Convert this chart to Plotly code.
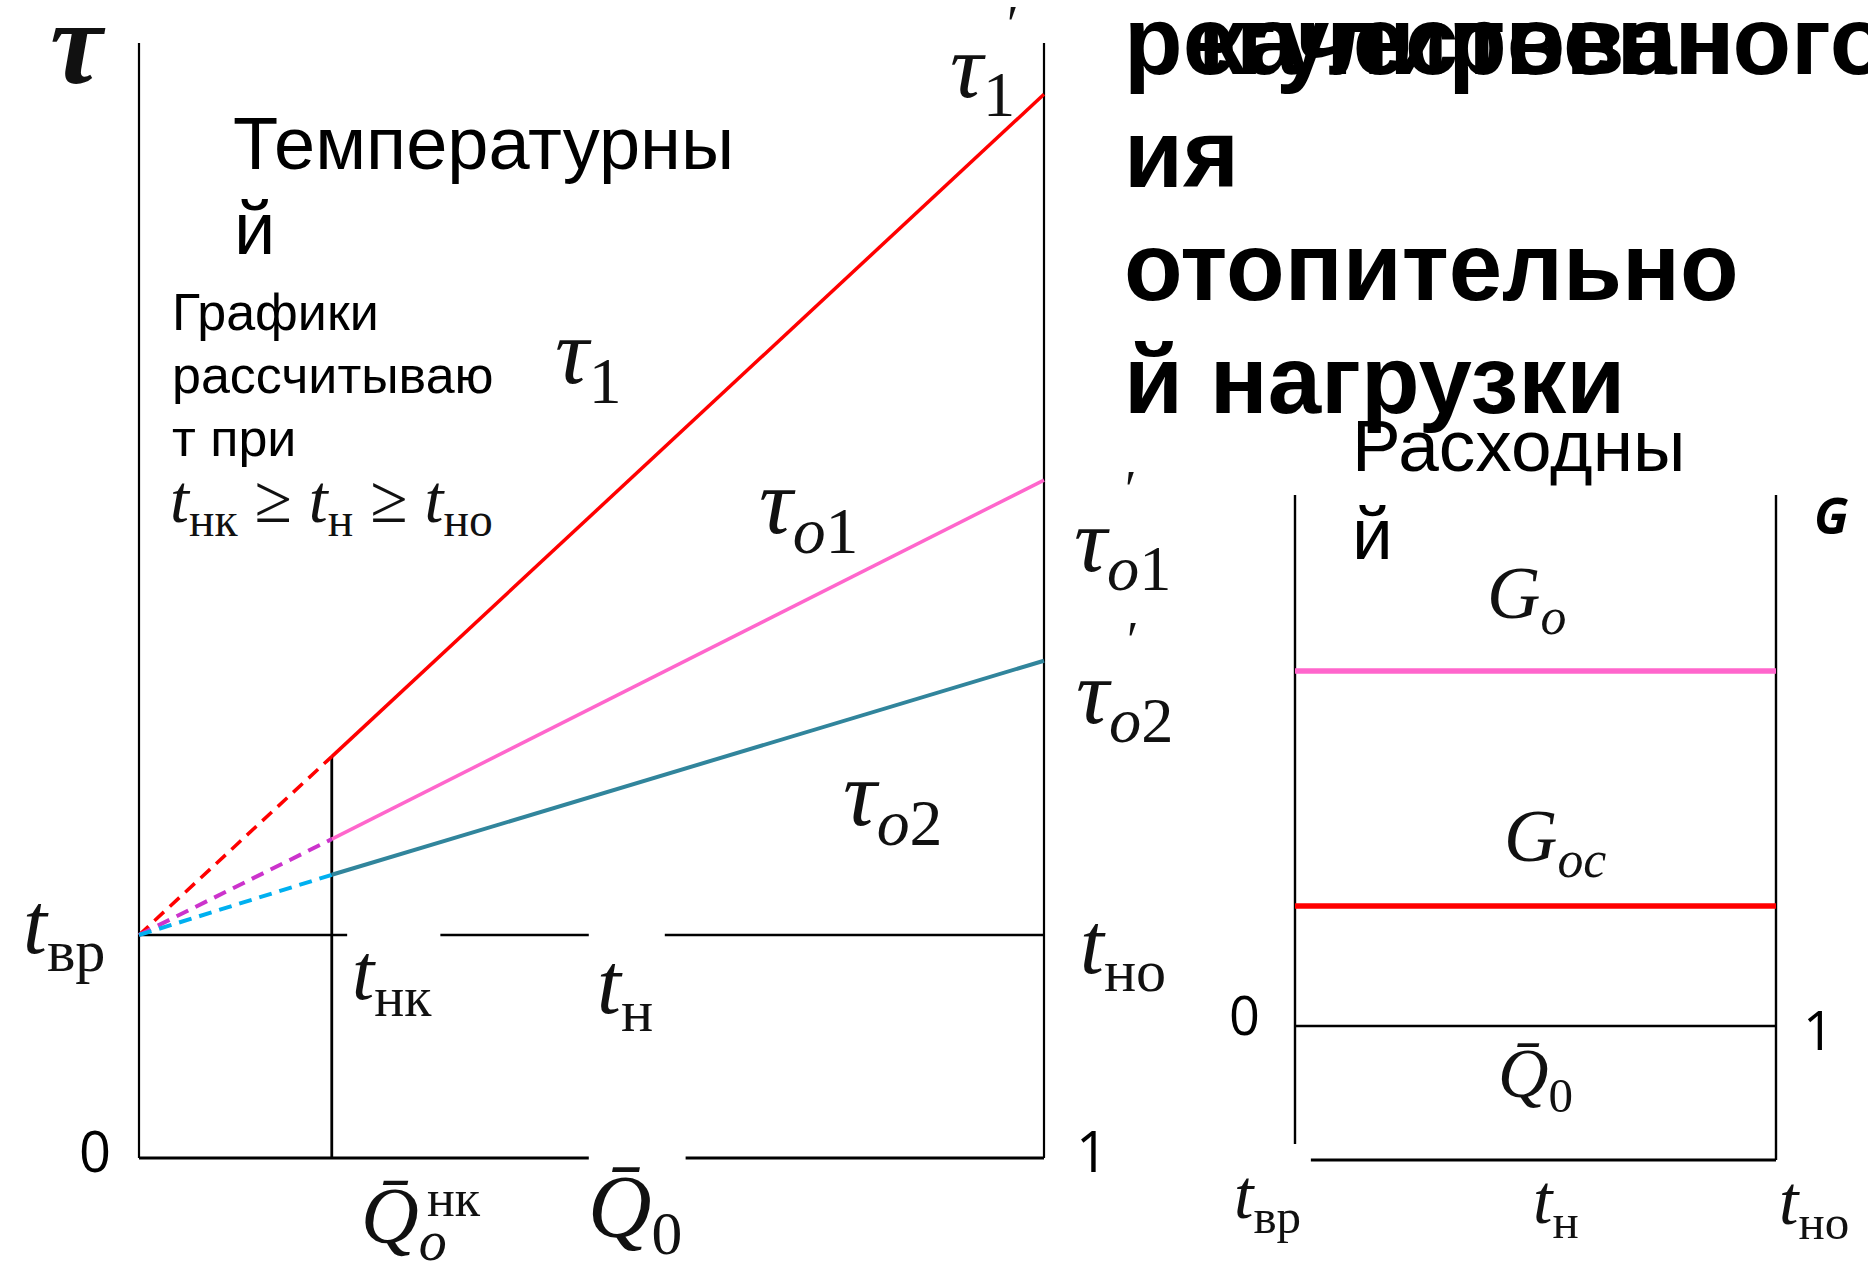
import plotly.graph_objects as go

W, H = 1868, 1261

# ---- temperature chart (left): relative load Q0 from 0 to 1 ----
q_axis = [0.0, 1.0]
q_nk = 0.213                 # load at the break point t_нк
t_vr = 1.0                   # design indoor temperature level
tau_top = 5.0                # top of the τ axis
tau1_vals = [1.0, 1.80, 4.77]     # τ1 at 0, Q_нк, 1
tau_o1_vals = [1.0, 1.43, 3.04]   # τo1 at 0, Q_нк, 1
tau_o2_vals = [1.0, 1.27, 2.23]   # τo2 at 0, Q_нк, 1
# gaps in the t_вр and base lines where labels sit
tvr_segments = [(0.0, 0.230), (0.333, 0.497), (0.581, 1.0)]
base_segments = [(0.0, 0.497), (0.604, 1.0)]

# ---- flow chart (right): t_вр..t_но ----
g_axis = [0.0, 1.0]
g_o = 3.55
g_oc = 1.20
g_bottom = -1.34
g_left_bottom = -1.18
g_top = 5.31
g_base_start = 0.033

# pixel mapping of each panel
L_X0, L_XW = 139, 905
L_Y0, L_YU = 1158, 223
R_X0, R_XW = 1295, 481
R_Y0, R_YU = 1026, 100
L_XR, L_YR = [-0.03, 1.03], [-0.1, 5.1]
R_XR, R_YR = [-0.05, 1.05], [-1.5, 5.5]


def dom_x(x0, xw, rng):
    return [(x0 + xw * rng[0]) / W, (x0 + xw * rng[1]) / W]


def dom_y(y0, yu, rng):
    return [1 - (y0 - yu * rng[0]) / H, 1 - (y0 - yu * rng[1]) / H]


fig = go.Figure()

BLACK = "#000000"
RED = "#FF0000"
PINK = "#FF66CC"
TEAL = "#31859C"
MAGENTA = "#CC33CC"
SKY = "#00B0F0"


def seg(x, y, color, width, dash="solid", ax="1"):
    fig.add_trace(go.Scatter(
        x=x, y=y, mode="lines", showlegend=False, hoverinfo="skip",
        line=dict(color=color, width=width, dash=dash),
        xaxis="x" if ax == "1" else "x2", yaxis="y" if ax == "1" else "y2"))


# left panel frame
seg([0, 0], [0, tau_top], BLACK, 2.2)
seg([1, 1], [0, tau_top], BLACK, 2.2)
for a, b in base_segments:
    seg([a, b], [0, 0], BLACK, 2.8)
for a, b in tvr_segments:
    seg([a, b], [t_vr, t_vr], BLACK, 2.4)
seg([q_nk, q_nk], [0, tau1_vals[1]], BLACK, 2.8)

# temperature lines: dashed below t_нк, solid above
xs = [0.0, q_nk, 1.0]
seg(xs[:2], tau1_vals[:2], RED, 3.5, "13px,8px")
seg(xs[1:], tau1_vals[1:], RED, 3.5)
seg(xs[:2], tau_o1_vals[:2], MAGENTA, 4, "13px,8px")
seg(xs[1:], tau_o1_vals[1:], PINK, 3.5)
seg(xs[:2], tau_o2_vals[:2], SKY, 4, "13px,8px")
seg(xs[1:], tau_o2_vals[1:], TEAL, 4)

# right panel
seg([0, 0], [g_left_bottom, g_top], BLACK, 2.4, ax="2")
seg([1, 1], [g_bottom, g_top], BLACK, 2.4, ax="2")
seg([g_base_start, 1], [g_bottom, g_bottom], BLACK, 2.8, ax="2")
seg(g_axis, [0, 0], BLACK, 2.4, ax="2")
seg(g_axis, [g_o, g_o], PINK, 5.5, ax="2")
seg(g_axis, [g_oc, g_oc], RED, 5.5, ax="2")

hidden = dict(visible=False, showgrid=False, zeroline=False)
fig.update_layout(
    width=W, height=H, margin=dict(l=0, r=0, t=0, b=0),
    paper_bgcolor="white", plot_bgcolor="rgba(0,0,0,0)",
    xaxis=dict(domain=dom_x(L_X0, L_XW, L_XR), range=L_XR, **hidden),
    yaxis=dict(domain=dom_y(L_Y0, L_YU, L_YR), range=L_YR, **hidden),
    xaxis2=dict(domain=dom_x(R_X0, R_XW, R_XR), range=R_XR, anchor="y2", **hidden),
    yaxis2=dict(domain=dom_y(R_Y0, R_YU, R_YR), range=R_YR, anchor="x2", **hidden),
)

SERIF = "Liberation Serif"
SANS = "Liberation Sans"
NUM = "Open Sans"


def label(text, px, py, size, family=SERIF, xanchor="center", color="#111111"):
    fig.add_annotation(
        text=text, x=px / W, y=1 - py / H, xref="paper", yref="paper",
        xanchor=xanchor, yanchor="middle", showarrow=False,
        font=dict(family=family, size=size, color=color))


# math labels, left panel
label("<b><i>τ</i></b>", 78, 44, 118)
label("<i>τ</i><sub>1</sub>", 982, 72, 92)
label("′", 1012, 24, 52)
label("<i>τ</i><sub>1</sub>", 588, 358, 94)
label("<i>τ</i><sub><i>o</i>1</sub>", 808, 508, 94)
label("<i>τ</i><sub><i>o</i>1</sub>", 1122, 546, 92)
label("′", 1130, 490, 52)
label("<i>τ</i><sub><i>o</i>2</sub>", 1124, 698, 92)
label("′", 1132, 640, 52)
label("<i>τ</i><sub><i>o</i>2</sub>", 892, 800, 94)
label("<i>t</i><sub>вр</sub>", 64, 930, 86)
label("<i>t</i><sub>нк</sub>", 392, 978, 80)
label("<i>t</i><sub>н</sub>", 625, 990, 86)
label("<i>t</i><sub>но</sub>", 1123, 950, 86)
label("<i>Q̄</i><sub><i>o</i></sub>", 404, 1222, 80)
label("нк", 454, 1198, 52)
label("<i>Q̄</i><sub>0</sub>", 635, 1212, 88)
label("0", 95, 1150, 56, NUM, color="black")
label("1", 1092, 1150, 56, NUM, color="black")

# captions, left panel
label("Температурны", 231, 143, 74, SANS, "left", "black")
label("й", 232, 228, 74, SANS, "left", "black")
label("Графики", 170, 312, 52, SANS, "left", "black")
label("рассчитываю", 170, 375, 52, SANS, "left", "black")
label("т при", 170, 438, 52, SANS, "left", "black")
label("<i>t</i><sub>нк</sub> ≥ <i>t</i><sub>н</sub> ≥ <i>t</i><sub>но</sub>", 168, 503, 68, SERIF, "left")

# heading (two overlapping first lines)
HB = 96
label("<b>регулирован</b>", 1122, 40, HB, SANS, "left", "black")
label("<b>качественного</b>", 1196, 40, HB, SANS, "left", "black")
label("<b>ия</b>", 1122, 153, HB, SANS, "left", "black")
label("<b>отопительно</b>", 1122, 266, HB, SANS, "left", "black")
label("<b>й нагрузки</b>", 1122, 379, HB, SANS, "left", "black")

# right panel captions
label("Расходны", 1350, 445, 73, SANS, "left", "black")
label("й", 1350, 533, 73, SANS, "left", "black")
label("<b><i>G</i></b>", 1831, 515, 50, NUM, color="black")
label("<i>G</i><sub><i>o</i></sub>", 1526, 598, 74)
label("<i>G</i><sub><i>oc</i></sub>", 1555, 841, 74)
label("<i>Q̄</i><sub>0</sub>", 1535, 1079, 70)
label("<i>t</i><sub>вр</sub>", 1267, 1200, 70)
label("<i>t</i><sub>н</sub>", 1556, 1205, 70)
label("<i>t</i><sub>но</sub>", 1814, 1206, 70)
label("0", 1244, 1014, 54, NUM, color="black")
label("1", 1818, 1029, 54, NUM, color="black")

fig.write_html("out.html")
